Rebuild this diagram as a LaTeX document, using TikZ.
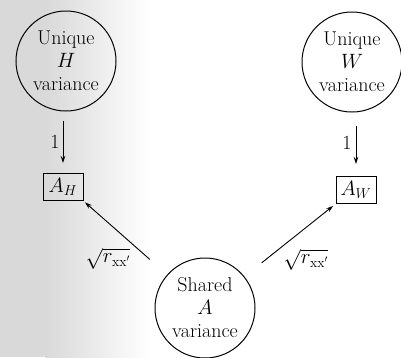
\documentclass[tikz,border=0pt]{standalone}
\usepackage{fontspec}
\usetikzlibrary{arrows.meta}
\begin{document}
\begin{tikzpicture}[x=1pt,y=-1pt,
  font=\fontsize{20}{23}\selectfont,
  var/.style={draw, circle, minimum size=100pt, inner sep=0pt, align=center, line width=1pt},
  obs/.style={draw, minimum width=40pt, minimum height=27pt, inner sep=1pt, line width=1pt},
  arr/.style={-{Stealth[length=7pt,width=4.5pt]}, line width=0.9pt},
  lbl/.style={inner sep=1pt}]
\useasboundingbox (0,0) rectangle (401,357);
\fill[gray!30] (0,0) rectangle (45,357);
\shade[left color=gray!30,right color=white] (45,0) rectangle (150,357);
\node[var] (H) at (66,61) {Unique\\$H$\\variance};
\node[var] (W) at (352,62) {Unique\\$W$\\variance};
\node[var] (S) at (205,308) {Shared\\$A$\\variance};
\node[obs] (AH) at (63,187) {$A_H$};
\node[obs] (AW) at (356,190) {$A_W$};
\draw[arr, shorten <=9pt, shorten >=10pt] (H.south -| AH.north) -- (AH.north);
\draw[arr, shorten <=13pt, shorten >=12pt] (W.south -| AW.north) -- (AW.north);
\node[lbl] (l1) at (55,142) {1};
\node[lbl] (l2) at (347,143) {1};
\draw[arr, shorten <=23pt, shorten >=2pt] (S) -- (AH.south east);
\draw[arr, shorten <=22pt, shorten >=3pt] (S) -- (AW.south west);
\node[lbl] (rl) at (108,259) {$\sqrt{r_{\mathrm{xx}'}}$};
\node[lbl] (rr) at (306,260) {$\sqrt{r_{\mathrm{xx}'}}$};
\end{tikzpicture}
\end{document}
